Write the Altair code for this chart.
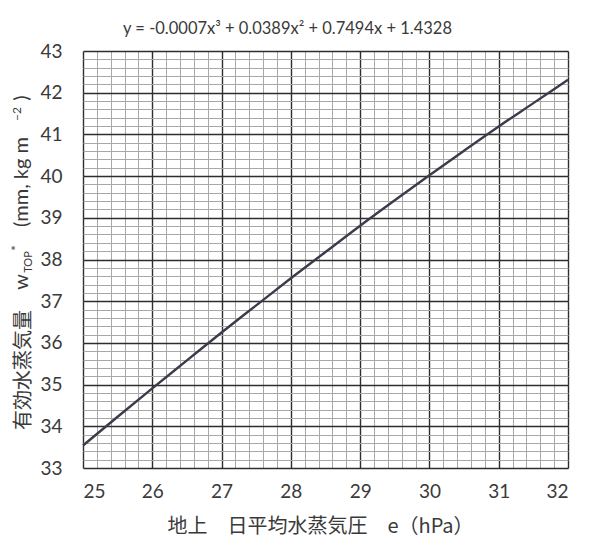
import altair as alt
import pandas as pd

# values
e_hpa = [25.0, 25.5, 26.0, 26.5, 27.0, 27.5, 28.0, 28.5, 29.0, 29.5, 30.0, 30.5, 31.0, 31.5, 32.0]
w_top = [33.54, 34.23, 34.91, 35.58, 36.25, 36.90, 37.55, 38.18, 38.81, 39.42, 40.02, 40.61, 41.19, 41.75, 42.31]

x_major = [25, 26, 27, 28, 29, 30, 31, 32]
y_major = [33, 34, 35, 36, 37, 38, 39, 40, 41, 42, 43]
x_minor = [round(25 + 0.2 * i, 1) for i in range(36)]
y_minor = [round(33 + 0.2 * i, 1) for i in range(51)]

equation = "y = -0.0007x³ + 0.0389x² + 0.7494x + 1.4328"
x_title = "地上　日平均水蒸気圧　e（hPa）"
y_title_parts = ["有効水蒸気量", "w", "TOP", "*", "(mm,  kg m", "−2", ")"]

df = pd.DataFrame({"e": e_hpa, "w": w_top})

LATIN = "Lato"
CJK = "Noto Sans CJK JP"
TXT = "#3a3a3a"

xs = alt.Scale(domain=[25, 32], nice=False, zero=False)
ys = alt.Scale(domain=[33, 43], nice=False, zero=False)

minor = alt.Chart(df).mark_line(opacity=0).encode(
    x=alt.X("e:Q", scale=xs, axis=alt.Axis(values=x_minor, grid=True, gridColor="#a8a8a8", gridWidth=1,
                                             labels=False, ticks=False, domain=False, title=None, orient="bottom")),
    y=alt.Y("w:Q", scale=ys, axis=alt.Axis(values=y_minor, grid=True, gridColor="#a8a8a8", gridWidth=1,
                                             labels=False, ticks=False, domain=False, title=None, orient="left")),
)

major = alt.Chart(df).mark_line(color="#3b3b4a", strokeWidth=2.4, interpolate="monotone").encode(
    x=alt.X("e:Q", scale=xs, axis=alt.Axis(values=x_major, grid=True, gridColor="#2e2e2e", gridWidth=1.4,
                                             ticks=False, domain=False, orient="bottom",
                                             labelFont=LATIN, labelFontSize=19, labelColor=TXT, labelPadding=14,
                                             title=x_title, titleFont=CJK, titleFontSize=20, titleFontWeight="normal",
                                             titleColor=TXT, titleX=237, titleY=58, titleAlign="center",
                                             titleBaseline="middle")),
    y=alt.Y("w:Q", scale=ys, axis=alt.Axis(values=y_major, grid=True, gridColor="#2e2e2e", gridWidth=1.4,
                                             ticks=False, domain=False, orient="left",
                                             labelFont=LATIN, labelFontSize=19, labelColor=TXT, labelPadding=21,
                                             title=None)),
)

one = pd.DataFrame({"k": [0]})


def ytxt(text, x, y, font, size, baseline="alphabetic"):
    return alt.Chart(one).mark_text(
        text=text, angle=270, align="center", baseline=baseline, font=font, fontSize=size, color=TXT
    ).encode(x=alt.value(x), y=alt.value(y))


labels = [
    ytxt(y_title_parts[0], -53, 319, CJK, 20),
    ytxt(y_title_parts[1], -55, 231, LATIN, 20),
    ytxt(y_title_parts[2], -51, 211, LATIN, 11),
    ytxt(y_title_parts[3], -66, 197, LATIN, 13, "middle"),
    ytxt(y_title_parts[4], -55, 131, LATIN, 20),
    ytxt(y_title_parts[5], -62, 63, LATIN, 12),
    ytxt(y_title_parts[6], -55, 47, LATIN, 20),
]

chart = alt.layer(minor, major, *labels).resolve_axis(x="independent", y="independent").properties(
    width=485,
    height=417,
    padding={"left": 75, "top": 43, "right": 16, "bottom": 80},
    autosize=alt.AutoSizeParams(type="none"),
    title=alt.TitleParams(text=equation, font=LATIN, fontSize=16.5, fontWeight="normal", color=TXT,
                          anchor="middle", dx=-38, offset=5),
).configure_view(stroke=None).configure(background="white")

chart.save("out.html", embed_options={"renderer": "svg", "actions": False})
